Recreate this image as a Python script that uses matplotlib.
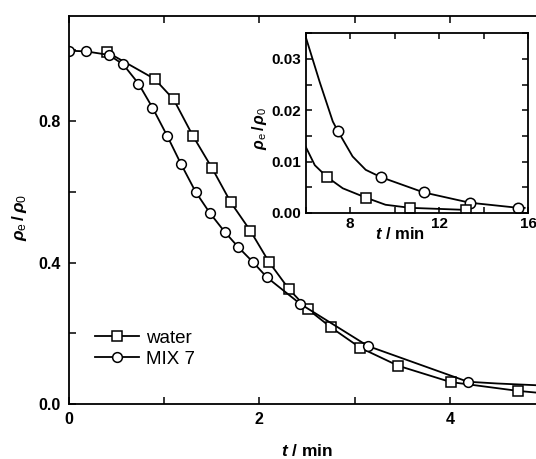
import numpy as np
import matplotlib
matplotlib.use("Agg")
import matplotlib.pyplot as plt
from matplotlib.ticker import MultipleLocator

plt.rcParams['font.family'] = ['Liberation Sans', 'DejaVu Sans']
plt.rcParams['mathtext.fontset'] = 'custom'
plt.rcParams['mathtext.rm'] = 'Liberation Sans'
plt.rcParams['mathtext.it'] = 'Liberation Sans:italic:bold'
plt.rcParams['mathtext.bf'] = 'Liberation Sans:bold'

# main panel data (t in min, rho_e/rho_0)
water_t = [0.40, 0.90, 1.10, 1.30, 1.505, 1.70, 1.905, 2.10, 2.31, 2.51, 2.75, 3.06, 3.46, 4.01, 4.72]
water_y = [0.995, 0.919, 0.861, 0.759, 0.666, 0.570, 0.490, 0.402, 0.325, 0.268, 0.217, 0.159, 0.108, 0.062, 0.037]
mix_t = [0.0, 0.18, 0.42, 0.57, 0.73, 0.877, 1.03, 1.176, 1.33, 1.477, 1.635, 1.78, 1.93, 2.08, 2.43, 3.14, 4.19]
mix_y = [0.999, 0.997, 0.987, 0.960, 0.906, 0.838, 0.759, 0.679, 0.600, 0.541, 0.487, 0.443, 0.402, 0.358, 0.283, 0.164, 0.063]
# curve tails beyond the last marker
water_tail_t = [4.72, 5.0]
water_tail_y = [0.037, 0.030]
mix_tail_t = [4.19, 4.50, 5.0]
mix_tail_y = [0.063, 0.058, 0.052]

# inset data
in_mix_t = [7.44, 9.37, 11.31, 13.38, 15.57]
in_mix_y = [0.016, 0.007, 0.004, 0.002, 0.001]
in_water_t = [6.96, 8.70, 10.70, 13.20]
in_water_y = [0.007, 0.003, 0.001, 0.0006]
# fitted curves in inset
fit_mix_t = [6.0, 6.63, 7.22, 7.44, 8.11, 8.70, 9.37, 11.31, 13.38, 15.57, 15.85]
fit_mix_y = [0.0343, 0.0255, 0.0178, 0.016, 0.0110, 0.0084, 0.007, 0.004, 0.002, 0.001, 0.001]
fit_water_t = [6.0, 6.41, 6.96, 7.67, 8.70, 9.59, 10.70, 13.20]
fit_water_y = [0.0129, 0.0093, 0.007, 0.0048, 0.003, 0.0016, 0.001, 0.0006]

main_xticks = [0, 2, 4]
main_yticks = [0.0, 0.4, 0.8]
inset_xticks = [8, 12, 16]
inset_yticks = [0.0, 0.01, 0.02, 0.03]

fig = plt.figure(figsize=(5.36, 4.59), dpi=100)
ax = fig.add_axes([0.1287, 0.1198, 0.888, 0.8453])

mk = dict(color='black', lw=1.3, mfc='white', mec='black', mew=1.1, ms=7)
ax.plot(water_tail_t, water_tail_y, color='black', lw=1.3)
ax.plot(mix_tail_t, mix_tail_y, color='black', lw=1.3)
ax.plot(water_t, water_y, marker='s', label='water', **mk)
ax.plot(mix_t, mix_y, marker='o', label='MIX 7', **mk)

ax.set_xlim(0, 5)
ax.set_ylim(0, 1.097)
ax.set_xticks(main_xticks)
ax.set_xticklabels([str(v) for v in main_xticks], fontweight='bold')
ax.set_yticks(main_yticks)
ax.set_yticklabels(['%.1f' % v for v in main_yticks], fontweight='bold')
ax.xaxis.set_minor_locator(MultipleLocator(1))
ax.yaxis.set_minor_locator(MultipleLocator(0.2))
ax.tick_params(which='both', direction='in', top=True, right=True, width=1.1, length=5)
ax.tick_params(which='major', labelsize=11.5, pad=6)
for s in ax.spines.values():
    s.set_linewidth(1.3)

ax.set_xlabel(r'$t$ / min', fontsize=12.5, fontweight='bold')
ax.xaxis.set_label_coords(0.5, -0.10)
ax.set_ylabel(r'$\rho_{\rm e}\,\mathbf{/}\,\rho_0$', fontsize=12.5)
ax.yaxis.set_label_coords(-0.085, 0.48)

ax.legend(loc='lower left', bbox_to_anchor=(0.02, 0.05), frameon=False,
          fontsize=13.5, handlelength=2.3, handletextpad=0.4, labelspacing=0.2)

# inset
ins = fig.add_axes([0.5703, 0.536, 0.4148, 0.3928])
ins.plot(fit_mix_t, fit_mix_y, color='black', lw=1.3)
ins.plot(fit_water_t, fit_water_y, color='black', lw=1.3)
ins.plot(in_mix_t, in_mix_y, ls='none', marker='o', mfc='white', mec='black', mew=1.1, ms=7.5)
ins.plot(in_water_t, in_water_y, ls='none', marker='s', mfc='white', mec='black', mew=1.1, ms=7)
ins.set_xlim(6, 15.85)
ins.set_ylim(0, 0.0351)
ins.set_xticks(inset_xticks)
ins.set_xticklabels([str(v) for v in inset_xticks], fontweight='bold')
ins.set_yticks(inset_yticks)
ins.set_yticklabels(['%.2f' % v for v in inset_yticks], fontweight='bold')
ins.xaxis.set_minor_locator(MultipleLocator(2))
ins.yaxis.set_minor_locator(MultipleLocator(0.005))
ins.tick_params(which='both', direction='in', top=True, right=True, width=1.1, length=4)
ins.tick_params(which='major', labelsize=11, pad=3)
for s in ins.spines.values():
    s.set_linewidth(1.3)
ins.set_xlabel(r'$t$ / min', fontsize=12, fontweight='bold')
ins.xaxis.set_label_coords(0.424, -0.075)
ins.set_ylabel(r'$\rho_{\rm e}\,\mathbf{/}\,\rho_0$', fontsize=11.5)
ins.yaxis.set_label_coords(-0.165, 0.47)

fig.savefig('out.png', dpi=100)
